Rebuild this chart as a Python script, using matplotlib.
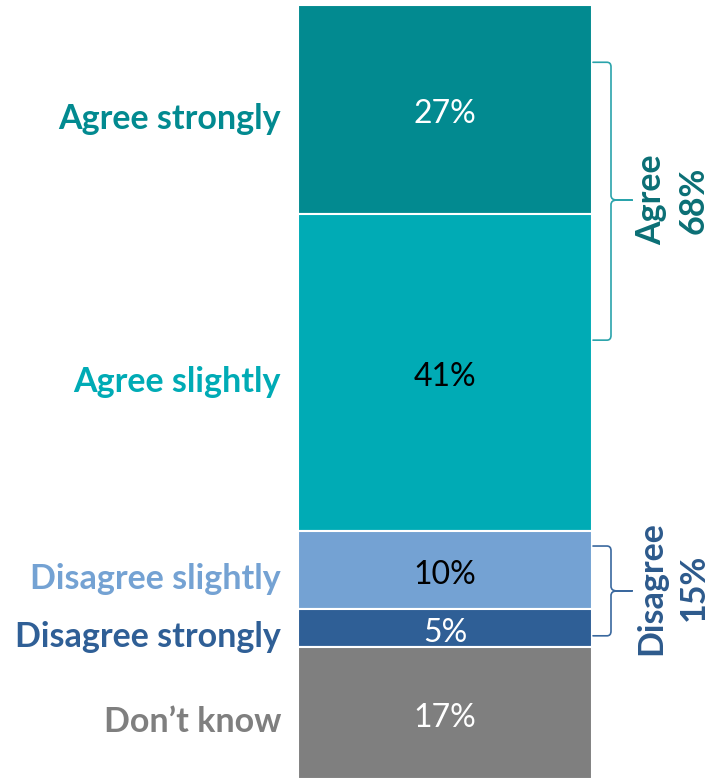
import numpy as np
import matplotlib.pyplot as plt
from matplotlib.path import Path
from matplotlib.patches import PathPatch

# survey answers, top to bottom
categories = ['Agree strongly', 'Agree slightly', 'Disagree slightly',
              'Disagree strongly', 'Don\u2019t know']
values = [27, 41, 10, 5, 17]
bar_colors = ['#028a90', '#00abb5', '#74a2d3', '#2f5f96', '#7f7f7f']
value_text_colors = ['white', 'black', 'black', 'white', 'white']

# grouped totals shown beside the bar
group_names = ['Agree', 'Disagree']
group_totals = [68, 15]
group_colors = ['#0b6f75', '#2d5a8c']
brace_colors = ['#2aa3ab', '#3a689e']

W, H = 718, 779
fig = plt.figure(figsize=(W / 100, H / 100), dpi=100)
ax = fig.add_axes([0, 0, 1, (H - 5) / H])
ax.set_xlim(0, W)
ax.set_ylim(100, 0)
ax.axis('off')

font = 'Lato'
fs = 24.5
bar_x, bar_w = 445, 294
bottoms = np.concatenate([[0], np.cumsum(values)[:-1]])

ax.bar(bar_x, values, bottom=bottoms, width=bar_w, color=bar_colors,
       edgecolor='white', linewidth=1.5)

for cat, v, b, c, tc in zip(categories, values, bottoms, bar_colors, value_text_colors):
    mid = b + v / 2
    ax.text(bar_x, mid + 0.6, f'{v}%', ha='center', va='center', color=tc,
            fontsize=fs - 1.5, family=font)
    ax.text(281, mid + 1.2, cat, ha='right', va='center', color=c,
            fontsize=fs, fontweight='bold', family=font)


def brace(ax, top, bot, tip, color):
    # curly bracket opening to the left, in px (x) and percent (y)
    x0, xv, xt = 593, 611, 632
    r = 0.6
    verts = [(x0, top), (xv - 4, top), (xv, top), (xv, top + r),
             (xv, tip - r), (xv, tip), (xv + 6, tip), (xt, tip),
             (xv + 6, tip), (xv, tip), (xv, tip + r),
             (xv, bot - r), (xv, bot), (xv - 4, bot), (x0, bot)]
    codes = [Path.MOVETO, Path.LINETO, Path.CURVE3, Path.CURVE3,
             Path.LINETO, Path.CURVE3, Path.CURVE3, Path.LINETO,
             Path.LINETO, Path.CURVE3, Path.CURVE3,
             Path.LINETO, Path.CURVE3, Path.CURVE3, Path.LINETO]
    ax.add_patch(PathPatch(Path(verts, codes), fill=False, edgecolor=color,
                           linewidth=1.2, capstyle='round', joinstyle='round'))


# brace spans (percent of bar height)
brace_spans = [(7.4, 43.3, 25.2), (69.9, 81.5, 75.7)]
label_mid = [25.2, 75.3]

for name, total, gc, bc, span, ym in zip(group_names, group_totals, group_colors,
                                         brace_colors, brace_spans, label_mid):
    brace(ax, *span, bc)
    ax.text(651, ym, name, rotation=90, ha='center', va='center', color=gc,
            fontsize=fs, fontweight='bold', family=font)
    ax.text(694, ym, f'{total}%', rotation=90, ha='center', va='center',
            color=gc, fontsize=fs, fontweight='bold', family=font)

fig.savefig('out.png', dpi=100)
